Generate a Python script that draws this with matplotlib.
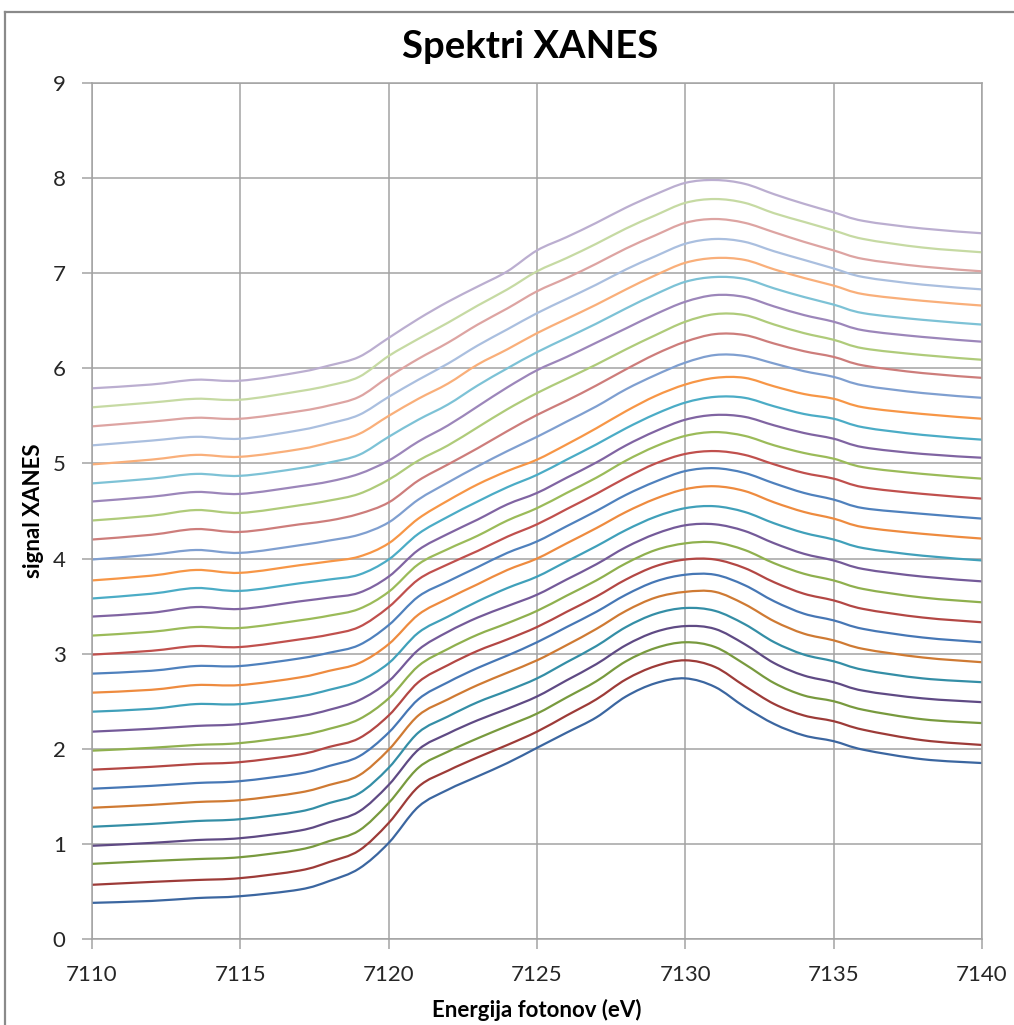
import matplotlib
matplotlib.use("Agg")
import matplotlib.pyplot as plt
from matplotlib.lines import Line2D
from matplotlib.path import Path
from matplotlib.patches import PathPatch

# photon energy (eV) at which each spectrum was read
energy = [7110, 7112, 7113.5, 7115, 7117, 7118, 7119, 7120, 7121, 7122, 7123, 7124, 7125,
          7126, 7127, 7128, 7129, 7130, 7131, 7132, 7133, 7134, 7135, 7136, 7138, 7140]

# XANES spectra, bottom (s01) to top (s28)
s01 = [0.38, 0.40, 0.43, 0.45, 0.52, 0.61, 0.74, 1.01, 1.39, 1.57, 1.71, 1.85, 2.01, 2.17, 2.33, 2.55, 2.69, 2.74, 2.65, 2.44, 2.26, 2.14, 2.08, 1.99, 1.89, 1.85]
s02 = [0.57, 0.60, 0.62, 0.64, 0.72, 0.81, 0.93, 1.22, 1.60, 1.77, 1.91, 2.04, 2.18, 2.35, 2.52, 2.73, 2.87, 2.93, 2.86, 2.66, 2.47, 2.35, 2.29, 2.20, 2.09, 2.04]
s03 = [0.79, 0.82, 0.84, 0.86, 0.94, 1.03, 1.14, 1.43, 1.80, 1.97, 2.11, 2.24, 2.37, 2.54, 2.71, 2.92, 3.06, 3.12, 3.07, 2.89, 2.69, 2.56, 2.50, 2.41, 2.31, 2.27]
s04 = [0.98, 1.01, 1.04, 1.06, 1.14, 1.23, 1.34, 1.62, 1.99, 2.16, 2.30, 2.42, 2.55, 2.72, 2.89, 3.09, 3.23, 3.29, 3.26, 3.10, 2.90, 2.77, 2.70, 2.61, 2.53, 2.49]
s05 = [1.18, 1.21, 1.24, 1.26, 1.34, 1.43, 1.53, 1.80, 2.17, 2.34, 2.49, 2.61, 2.74, 2.91, 3.08, 3.28, 3.42, 3.48, 3.45, 3.31, 3.12, 2.99, 2.92, 2.83, 2.74, 2.70]
s06 = [1.38, 1.41, 1.44, 1.46, 1.54, 1.62, 1.72, 1.99, 2.35, 2.52, 2.67, 2.80, 2.93, 3.09, 3.26, 3.45, 3.59, 3.65, 3.65, 3.52, 3.34, 3.21, 3.14, 3.05, 2.96, 2.91]
s07 = [1.58, 1.61, 1.64, 1.66, 1.74, 1.82, 1.92, 2.17, 2.52, 2.70, 2.85, 2.98, 3.12, 3.28, 3.44, 3.62, 3.76, 3.83, 3.83, 3.72, 3.55, 3.42, 3.35, 3.26, 3.17, 3.12]
s08 = [1.78, 1.81, 1.84, 1.86, 1.94, 2.02, 2.11, 2.35, 2.70, 2.88, 3.03, 3.15, 3.28, 3.44, 3.60, 3.78, 3.92, 3.99, 3.99, 3.90, 3.75, 3.63, 3.56, 3.47, 3.38, 3.33]
s09 = [1.98, 2.01, 2.04, 2.06, 2.14, 2.21, 2.31, 2.53, 2.87, 3.05, 3.20, 3.32, 3.45, 3.61, 3.77, 3.95, 4.09, 4.16, 4.17, 4.09, 3.95, 3.84, 3.77, 3.68, 3.59, 3.54]
s10 = [2.18, 2.21, 2.24, 2.26, 2.34, 2.41, 2.51, 2.71, 3.04, 3.23, 3.38, 3.50, 3.62, 3.78, 3.94, 4.12, 4.26, 4.35, 4.36, 4.29, 4.16, 4.05, 3.98, 3.89, 3.81, 3.76]
s11 = [2.39, 2.42, 2.47, 2.47, 2.55, 2.62, 2.71, 2.90, 3.22, 3.39, 3.55, 3.69, 3.81, 3.97, 4.13, 4.30, 4.44, 4.53, 4.55, 4.49, 4.37, 4.27, 4.20, 4.11, 4.03, 3.98]
s12 = [2.59, 2.62, 2.67, 2.67, 2.75, 2.82, 2.90, 3.10, 3.41, 3.58, 3.73, 3.88, 4.00, 4.16, 4.32, 4.49, 4.63, 4.73, 4.76, 4.71, 4.59, 4.49, 4.42, 4.33, 4.26, 4.21]
s13 = [2.79, 2.82, 2.87, 2.87, 2.95, 3.01, 3.09, 3.30, 3.60, 3.76, 3.91, 4.06, 4.18, 4.34, 4.50, 4.67, 4.81, 4.92, 4.95, 4.90, 4.79, 4.69, 4.62, 4.53, 4.47, 4.42]
s14 = [2.99, 3.03, 3.08, 3.07, 3.15, 3.20, 3.28, 3.49, 3.78, 3.94, 4.08, 4.23, 4.36, 4.52, 4.68, 4.85, 5.00, 5.10, 5.13, 5.09, 4.99, 4.90, 4.84, 4.75, 4.68, 4.63]
s15 = [3.19, 3.23, 3.28, 3.27, 3.35, 3.40, 3.47, 3.65, 3.94, 4.10, 4.24, 4.40, 4.53, 4.69, 4.85, 5.03, 5.18, 5.29, 5.33, 5.29, 5.19, 5.11, 5.05, 4.96, 4.89, 4.84]
s16 = [3.39, 3.43, 3.49, 3.47, 3.55, 3.59, 3.64, 3.81, 4.09, 4.26, 4.41, 4.57, 4.69, 4.85, 5.01, 5.19, 5.34, 5.46, 5.51, 5.49, 5.40, 5.32, 5.26, 5.17, 5.10, 5.06]
s17 = [3.58, 3.63, 3.69, 3.66, 3.74, 3.78, 3.83, 3.99, 4.26, 4.44, 4.60, 4.75, 4.88, 5.04, 5.20, 5.37, 5.52, 5.64, 5.70, 5.69, 5.60, 5.52, 5.47, 5.38, 5.30, 5.25]
s18 = [3.77, 3.82, 3.88, 3.85, 3.93, 3.97, 4.02, 4.16, 4.42, 4.61, 4.78, 4.92, 5.04, 5.20, 5.37, 5.55, 5.71, 5.83, 5.90, 5.90, 5.81, 5.73, 5.68, 5.59, 5.52, 5.47]
s19 = [3.99, 4.04, 4.09, 4.06, 4.14, 4.19, 4.25, 4.38, 4.62, 4.80, 4.97, 5.13, 5.28, 5.44, 5.60, 5.78, 5.93, 6.06, 6.14, 6.13, 6.05, 5.97, 5.91, 5.82, 5.74, 5.69]
s20 = [4.20, 4.25, 4.31, 4.28, 4.36, 4.40, 4.47, 4.59, 4.82, 4.99, 5.16, 5.34, 5.51, 5.66, 5.82, 5.99, 6.15, 6.28, 6.36, 6.35, 6.26, 6.18, 6.12, 6.03, 5.95, 5.90]
s21 = [4.40, 4.45, 4.51, 4.48, 4.56, 4.61, 4.68, 4.83, 5.03, 5.19, 5.38, 5.57, 5.74, 5.89, 6.04, 6.20, 6.35, 6.49, 6.57, 6.56, 6.46, 6.37, 6.30, 6.21, 6.14, 6.09]
s22 = [4.60, 4.65, 4.70, 4.68, 4.76, 4.81, 4.89, 5.03, 5.23, 5.40, 5.60, 5.80, 5.98, 6.12, 6.27, 6.42, 6.57, 6.70, 6.77, 6.75, 6.65, 6.56, 6.49, 6.40, 6.33, 6.28]
s23 = [4.79, 4.84, 4.89, 4.87, 4.95, 5.01, 5.09, 5.28, 5.46, 5.62, 5.82, 6.00, 6.17, 6.32, 6.47, 6.63, 6.78, 6.91, 6.96, 6.94, 6.84, 6.75, 6.67, 6.58, 6.51, 6.46]
s24 = [4.99, 5.04, 5.09, 5.07, 5.15, 5.22, 5.31, 5.50, 5.68, 5.84, 6.04, 6.20, 6.37, 6.52, 6.67, 6.83, 6.98, 7.11, 7.16, 7.14, 7.04, 6.95, 6.87, 6.78, 6.71, 6.66]
s25 = [5.19, 5.24, 5.28, 5.26, 5.35, 5.42, 5.51, 5.70, 5.88, 6.05, 6.24, 6.41, 6.58, 6.73, 6.88, 7.04, 7.18, 7.31, 7.36, 7.33, 7.23, 7.14, 7.05, 6.96, 6.88, 6.83]
s26 = [5.39, 5.44, 5.48, 5.47, 5.55, 5.61, 5.70, 5.91, 6.10, 6.27, 6.46, 6.63, 6.81, 6.95, 7.10, 7.26, 7.40, 7.53, 7.57, 7.53, 7.43, 7.33, 7.24, 7.15, 7.07, 7.02]
s27 = [5.59, 5.64, 5.68, 5.67, 5.76, 5.82, 5.91, 6.13, 6.31, 6.48, 6.66, 6.83, 7.02, 7.16, 7.31, 7.47, 7.61, 7.74, 7.78, 7.74, 7.63, 7.54, 7.45, 7.36, 7.27, 7.22]
s28 = [5.79, 5.83, 5.88, 5.87, 5.96, 6.03, 6.12, 6.32, 6.52, 6.70, 6.86, 7.02, 7.24, 7.38, 7.53, 7.69, 7.83, 7.95, 7.98, 7.94, 7.83, 7.73, 7.64, 7.55, 7.47, 7.42]

spectra = [s01, s02, s03, s04, s05, s06, s07, s08, s09, s10, s11, s12, s13, s14,
           s15, s16, s17, s18, s19, s20, s21, s22, s23, s24, s25, s26, s27, s28]

# Excel-like palette, darker at the bottom and paler at the top
colors = [
    "#3b66a0", "#9d3b38", "#789a3e", "#5f4a84", "#348ea6", "#cf7a33",
    "#4677b5", "#b34744", "#8fb04e", "#745a99", "#40a0ba", "#ee8b3f",
    "#4f81bd", "#c0504d", "#9bbb59", "#8064a2", "#4bacc6", "#f79646",
    "#7f9fd0", "#cd7d7b", "#afcb7a", "#9c86ba", "#7dc2d6", "#f9af7a",
    "#aabfdf", "#dda4a2", "#c6daa3", "#bbaed0",
]

FONT = ["Lato", "DejaVu Sans"]
GRID = "#a3a3a3"


def smooth_path(xs, ys):
    # Excel "smoothed line": cubic Bezier segments through the data points
    pts = list(zip(xs, ys))
    verts = [pts[0]]
    codes = [Path.MOVETO]
    n = len(pts)
    for i in range(n - 1):
        p0 = pts[max(i - 1, 0)]
        p1 = pts[i]
        p2 = pts[i + 1]
        p3 = pts[min(i + 2, n - 1)]
        c1 = (p1[0] + (p2[0] - p0[0]) / 6, p1[1] + (p2[1] - p0[1]) / 6)
        c2 = (p2[0] - (p3[0] - p1[0]) / 6, p2[1] - (p3[1] - p1[1]) / 6)
        verts += [c1, c2, p2]
        codes += [Path.CURVE4] * 3
    return Path(verts, codes)


fig = plt.figure(figsize=(10.14, 10.25), dpi=100)
ax = fig.add_axes([92 / 1014, 1 - 939 / 1025, 890 / 1014, 856 / 1025])

for vals, c in zip(spectra, colors):
    ax.add_patch(PathPatch(smooth_path(energy, vals), fill=False, edgecolor=c,
                           lw=1.6, joinstyle="round", capstyle="round"))

ax.set_xlim(7110, 7140)
ax.set_ylim(0, 9)
ax.set_xticks(range(7110, 7141, 5))
ax.set_yticks(range(0, 10))
ax.grid(True, color=GRID, lw=1.1)
ax.set_axisbelow(True)
for sp in ax.spines.values():
    sp.set_color(GRID)
    sp.set_linewidth(1.1)
ax.tick_params(direction="out", length=7, width=1.1, color=GRID,
               labelsize=16, labelcolor="#262626")
ax.tick_params(axis="y", pad=12)
ax.tick_params(axis="x", pad=12)
for lab in ax.get_xticklabels() + ax.get_yticklabels():
    lab.set_family(FONT)

fig.text(0.523, 1 - 47 / 1025, "Spektri XANES", ha="center", va="center",
         fontsize=27.5, fontweight="bold", family=FONT)
fig.text(537 / 1014, 1 - 1010 / 1025, "Energija fotonov (eV)", ha="center", va="center",
         fontsize=16, fontweight="bold", family=FONT)
fig.text(33 / 1014, 1 - 511 / 1025, "signal XANES", ha="center", va="center",
         rotation=90, fontsize=16, fontweight="bold", family=FONT)

# chart frame (cut off at right and bottom in the original)
fig.add_artist(Line2D([5 / 1014, 5 / 1014], [0, 1 - 12 / 1025], color="#8a8a8a", lw=1.6,
                      transform=fig.transFigure))
fig.add_artist(Line2D([5 / 1014, 1], [1 - 12 / 1025, 1 - 12 / 1025], color="#8a8a8a", lw=1.6,
                      transform=fig.transFigure))

fig.savefig("out.png", dpi=100)
